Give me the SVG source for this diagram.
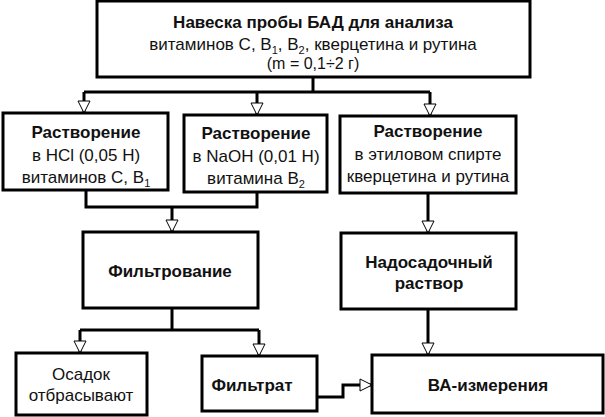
<svg xmlns="http://www.w3.org/2000/svg" width="605" height="417" viewBox="0 0 605 417">
<style>
.box{fill:#fff;stroke:#000;stroke-width:3}
.ln{fill:none;stroke:#000;stroke-width:3}
text{font-family:"Liberation Sans",Arial,sans-serif;font-size:17px;fill:#111;text-anchor:middle}
.b{font-weight:bold}
.s{font-size:16px}
.sub{font-size:11px}
</style>
<defs>
<marker id="ar" viewBox="0 0 14 14" refX="13" refY="7" markerWidth="14" markerHeight="14" markerUnits="userSpaceOnUse" orient="auto">
<path d="M1,1 L13,7 L1,13 Z" fill="#fff" stroke="#000" stroke-width="1"/>
</marker>
</defs>
<rect width="605" height="417" fill="#fff"/>
<g id="connectors">
<path class="ln" d="M313,77 V92"/>
<path class="ln" d="M84,92 H430"/>
<path class="ln" d="M84,92 V113" marker-end="url(#ar)"/>
<path class="ln" d="M257,92 V115" marker-end="url(#ar)"/>
<path class="ln" d="M430,92 V116" marker-end="url(#ar)"/>
<path class="ln" d="M86,190 V207 H257 V192"/>
<path class="ln" d="M172,207 V232" marker-end="url(#ar)"/>
<path class="ln" d="M428,193 V233" marker-end="url(#ar)"/>
<path class="ln" d="M172,308 V330"/>
<path class="ln" d="M80,330 H259"/>
<path class="ln" d="M80,330 V353" marker-end="url(#ar)"/>
<path class="ln" d="M259,330 V356" marker-end="url(#ar)"/>
<path class="ln" d="M428,309 V355" marker-end="url(#ar)"/>
<path class="ln" d="M317,397 H343 V385 H372" marker-end="url(#ar)"/>
</g>
<g id="sample">
<rect class="box" x="97" y="1" width="433" height="76"/>
<text class="b" x="313" y="28">Навеска пробы БАД для анализа</text>
<text x="313" y="50">витаминов C, B<tspan class="sub" dy="4">1</tspan><tspan dy="-4">, B</tspan><tspan class="sub" dy="4">2</tspan><tspan dy="-4">, кверцетина и рутина</tspan></text>
<text class="s" x="313" y="69">(m = 0,1÷2 г)</text>
</g>
<g id="hcl">
<rect class="box" x="3" y="113" width="165" height="77"/>
<text class="b" x="86" y="138">Растворение</text>
<text x="86" y="161">в HCl (0,05 Н)</text>
<text x="86" y="183">витаминов C, B<tspan class="sub" dy="4">1</tspan></text>
</g>
<g id="naoh">
<rect class="box" x="184" y="115" width="143" height="77"/>
<text class="b" x="256" y="139">Растворение</text>
<text x="256" y="162">в NaOH (0,01 Н)</text>
<text x="256" y="184">витамина B<tspan class="sub" dy="4">2</tspan></text>
</g>
<g id="ethanol">
<rect class="box" x="340" y="116" width="176" height="77"/>
<text class="b" x="428" y="137">Растворение</text>
<text x="428" y="160">в этиловом спирте</text>
<text x="428" y="182">кверцетина и рутина</text>
</g>
<g id="filtering">
<rect class="box" x="83" y="232" width="175" height="76"/>
<text class="b" x="170" y="277">Фильтрование</text>
</g>
<g id="supernatant">
<rect class="box" x="341" y="233" width="175" height="76"/>
<text class="b" x="429" y="268">Надосадочный</text>
<text class="b" x="429" y="289">раствор</text>
</g>
<g id="sediment">
<rect class="box" x="16" y="353" width="131" height="62"/>
<text x="81" y="380">Осадок</text>
<text x="81" y="401">отбрасывают</text>
</g>
<g id="filtrate">
<rect class="box" x="202" y="356" width="115" height="55"/>
<text class="b" x="252" y="391">Фильтрат</text>
</g>
<g id="measure">
<rect class="box" x="372" y="355" width="231" height="58"/>
<text class="b" x="488" y="391">ВА-измерения</text>
</g>
</svg>
